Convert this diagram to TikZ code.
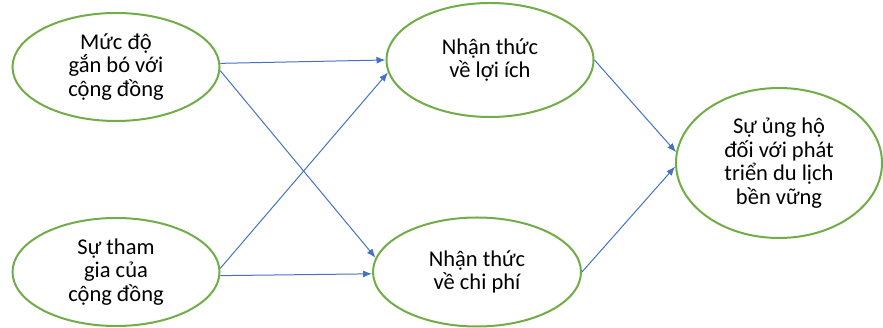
\documentclass[tikz,border=0pt]{standalone}
\usepackage{fontspec}
\setmainfont{Carlito}
\usetikzlibrary{shapes.geometric,arrows.meta}
\definecolor{ringgreen}{RGB}{112,173,71}
\definecolor{linkblue}{RGB}{68,114,196}
\begin{document}
\begin{tikzpicture}
			[x=1pt,y=1pt,
			every ellipse node/.style={draw=ringgreen,line width=2pt,align=center,inner sep=0pt,
				font=\fontsize{22.5}{23.5}\selectfont},
			every edge/.style={draw,linkblue,line width=1pt,-{Latex[length=9pt,width=7pt]}}]
			\useasboundingbox (0,0) rectangle (883,328);
			\node[ellipse,minimum width=207pt,minimum height=108pt] (ganbo) at (116,261) {Mức độ\\gắn bó với\\cộng đồng};
			\node[ellipse,minimum width=207pt,minimum height=108pt] (thamgia) at (116,56) {Sự tham\\gia của\\cộng đồng};
			\node[ellipse,minimum width=207pt,minimum height=114pt] (loiich) at (490,268) {Nhận thức\\về lợi ích};
			\node[ellipse,minimum width=208pt,minimum height=109pt] (chiphi) at (477,56) {Nhận thức\\về chi phí};
			\node[ellipse,minimum width=206pt,minimum height=150pt] (ungho) at (779,165) {Sự ủng hộ\\đối với phát\\triển du lịch\\bền vững};
			\path
			(ganbo.2) edge (loiich.180)
			(ganbo.-2) edge (chiphi.172)
			(thamgia.2) edge (loiich.187)
			(thamgia.-2) edge (chiphi.181)
			(loiich.east) edge (ungho.174)
			(chiphi.east) edge (ungho.182);
		\end{tikzpicture}
\end{document}
